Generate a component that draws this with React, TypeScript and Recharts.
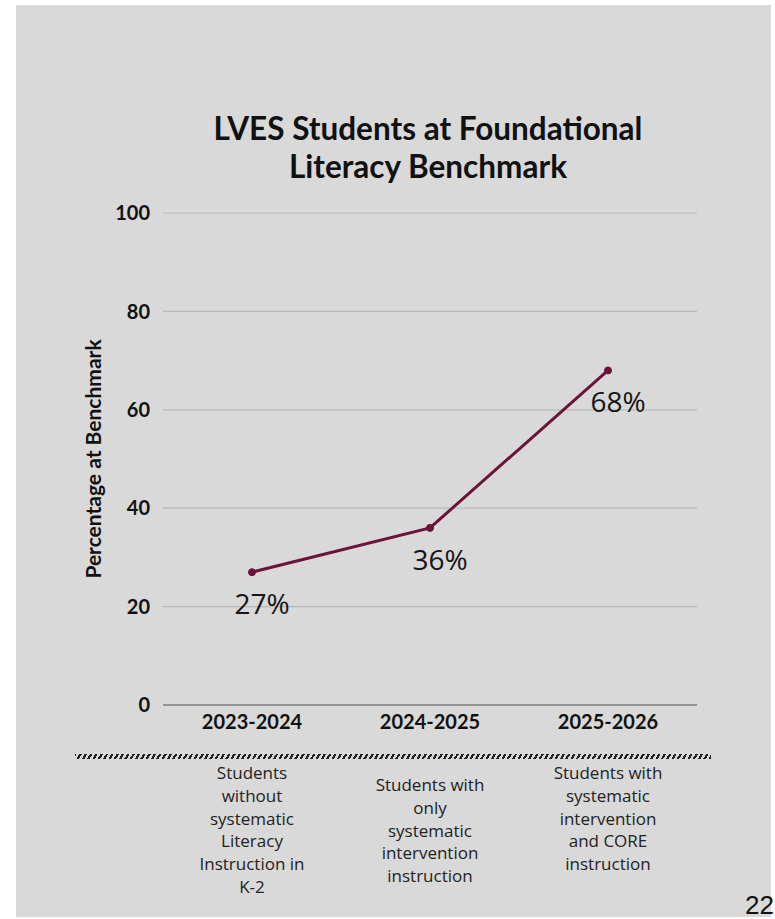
import { LineChart, Line, XAxis, YAxis, CartesianGrid, LabelList } from "recharts";

const YEARS = ["2023-2024", "2024-2025", "2025-2026"];
const PCT = [27, 36, 68];
const Y_TICKS = [0, 20, 40, 60, 80, 100];
const DESCRIPTIONS = [
  ["Students", "without", "systematic", "Literacy", "Instruction in", "K-2"],
  ["Students with", "only", "systematic", "intervention", "instruction"],
  ["Students with", "systematic", "intervention", "and CORE", "instruction"],
];

const data = YEARS.map((year, i) => ({ year, pct: PCT[i] }));

const MAROON = "#6b1339";
const BG = "#d9d9d9";
const BOLD = "Lato, 'Open Sans', sans-serif";
const PLAIN = "'Open Sans', sans-serif";
const DESC_SHIFT = [0, 12, 0];

function YearTick(props: any) {
  const { x, y, payload, index } = props;
  const lines = DESCRIPTIONS[index] ?? [];
  return (
    <g>
      <text x={x} y={y + 24} textAnchor="middle" fontFamily={BOLD} fontWeight={700} fontSize={20} fill="#111">
        {payload.value}
      </text>
      {lines.map((l: string, k: number) => (
        <text
          key={k}
          x={x}
          y={y + 74 + DESC_SHIFT[index] + k * 22.8}
          textAnchor="middle"
          fontFamily={PLAIN}
          fontSize={17}
          fill="#222"
        >
          {l}
        </text>
      ))}
    </g>
  );
}

function PctLabel(props: any) {
  const { x, y, value } = props;
  return (
    <text x={x + 10} y={y + 42} textAnchor="middle" fontFamily={PLAIN} fontSize={28} fill="#151515">
      {value}%
    </text>
  );
}

export default function App() {
  return (
    <div style={{ position: "absolute", left: 0, top: 0, width: 775, height: 919, background: "#fff" }}>
      <div style={{ position: "absolute", left: 16, top: 5, width: 755, height: 912, background: BG }} />

      {/* title */}
      <div
        style={{
          position: "absolute", left: 178, width: 500, top: 109, textAlign: "center",
          fontFamily: BOLD, fontWeight: 700, fontSize: 31.5, lineHeight: "38px", color: "#111",
          whiteSpace: "nowrap",
        }}
      >
        LVES Students at Foundational
        <br />
        Literacy Benchmark
      </div>

      {/* y label */}
      <div style={{ position: "absolute", left: 92, top: 459, width: 0, height: 0 }}>
        <div
          style={{
            position: "absolute", transform: "translate(-50%, -50%) rotate(-90deg)",
            whiteSpace: "nowrap", fontFamily: BOLD, fontWeight: 700, fontSize: 21, color: "#111",
          }}
        >
          Percentage at Benchmark
        </div>
      </div>

      <div style={{ position: "absolute", left: 16, top: 5 }}>
        <LineChart width={755} height={912} data={data} margin={{ top: 208, right: 74, bottom: 12, left: 87 }}>
          <CartesianGrid horizontal vertical={false} stroke="#b9b9b9" strokeWidth={1.2} />
          <XAxis
            dataKey="year"
            padding={{ left: 89, right: 89 }}
            axisLine={{ stroke: "#808080", strokeWidth: 1.5 }}
            tickLine={false}
            tickSize={0}
            tickMargin={0}
            height={200}
            interval={0}
            tick={<YearTick />}
          />
          <YAxis
            domain={[0, 100]}
            ticks={Y_TICKS}
            width={60}
            axisLine={false}
            tickLine={false}
            tickMargin={7}
            tick={{ fontFamily: BOLD, fontWeight: 700, fontSize: 20, fill: "#111" }}
          />
          <Line
            dataKey="pct"
            stroke={MAROON}
            strokeWidth={3}
            dot={{ r: 3.5, fill: MAROON, stroke: MAROON, strokeWidth: 1 }}
            isAnimationActive={false}
          >
            <LabelList dataKey="pct" content={<PctLabel />} />
          </Line>
        </LineChart>
      </div>

      {/* hatched divider */}
      <div
        style={{
          position: "absolute", left: 75, top: 754, width: 636, height: 5,
          background: "repeating-linear-gradient(-60deg, #222 0 2.2px, transparent 2.2px 4.6px)",
        }}
      />

      <div
        style={{
          position: "absolute", right: 1, bottom: 1, fontFamily: "'Liberation Sans', Arial, sans-serif",
          fontSize: 26, lineHeight: "26px", color: "#111",
        }}
      >
        22
      </div>
    </div>
  );
}
